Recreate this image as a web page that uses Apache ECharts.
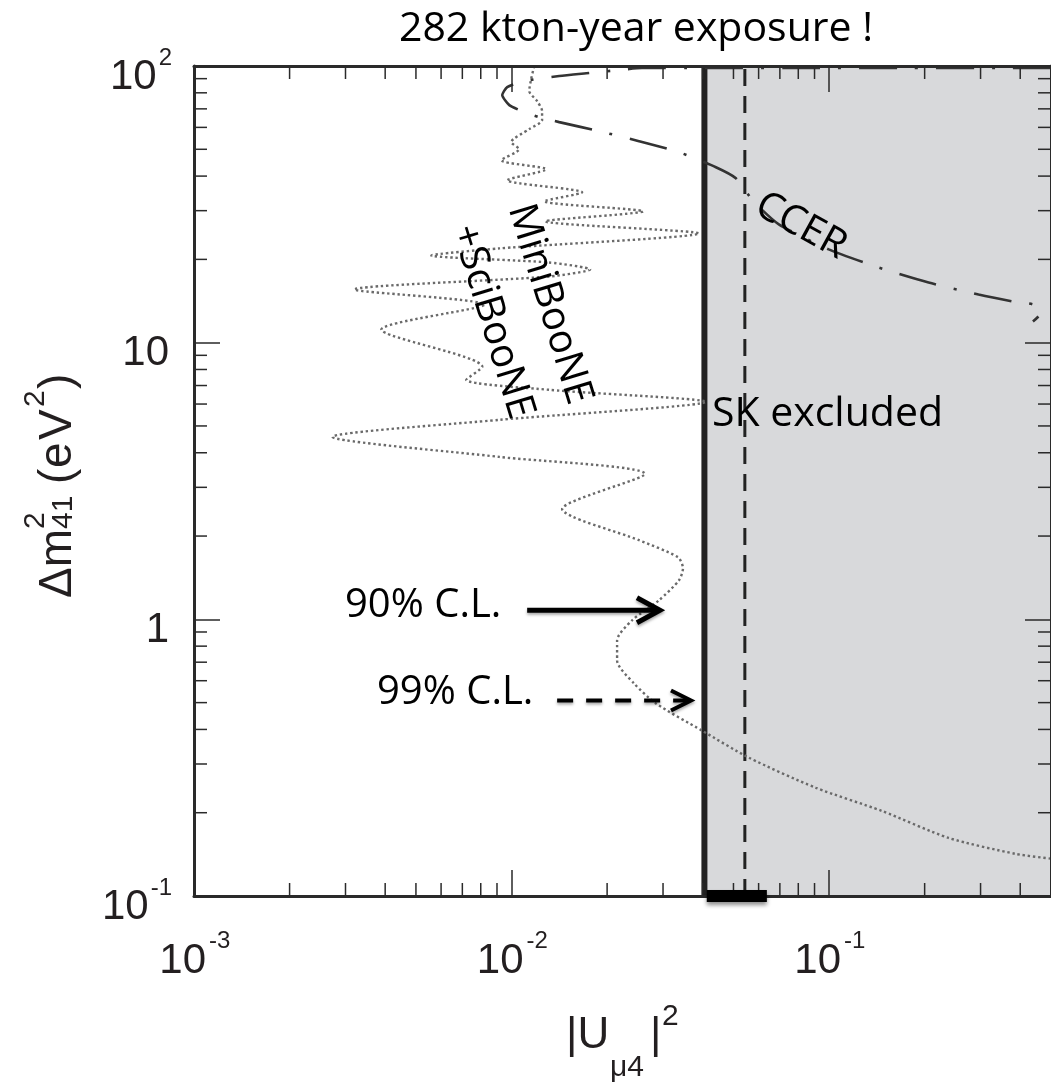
<!DOCTYPE html>
<html><head><meta charset="utf-8">
<script src="https://cdn.jsdelivr.net/npm/echarts@6/dist/echarts.min.js"></script>
<style>html,body{margin:0;padding:0;background:#fff}#c{width:1051px;height:1088px}</style>
</head><body><div id="c"></div>
<script>
// ---------- data ----------
const xTickValues = [0.001, 0.01, 0.1];
const xTickBase = ['10', '10', '10'];
const xTickExp = ['-3', '-2', '-1'];
const yTickValues = [0.1, 1, 10, 100];
const yTickBase = ['10', '1', '10', '10'];
const yTickExp = ['-1', '', '', '2'];
const xMinorTicks = [0.002,0.003,0.004,0.005,0.006,0.007,0.008,0.009,0.02,0.03,0.04,0.05,0.06,0.07,0.08,0.09,0.2,0.3,0.4];
const yMinorTicks = [0.2,0.3,0.4,0.5,0.6,0.7,0.8,0.9,2,3,4,5,6,7,8,9,20,30,40,50,60,70,80,90];

// MiniBooNE+SciBooNE (dotted)
const booneX = [0.01179,0.01153,0.01137,0.01204,0.01248,0.01248,0.01137,0.00998,0.01057,0.00928,0.01285,0.00969,0.01669,0.01267,0.02595,0.01276,0.03895,0.00915,0.00559,0.01313,0.01768,0.01313,0.00320,0.00821,0.00389,0.00809,0.00720,0.01313,0.04096,0.00915,0.00273,0.00915,0.02633,0.01443,0.02521,0.03344,0.03467,0.03369,0.02914,0.02397,0.02150,0.02150,0.02432,0.02851,0.03980,0.05592,0.09083,0.1464,0.2379,0.3864,0.5];
const booneY = [100,89.75,81.19,74.67,68.71,63.73,59.13,53.04,50.04,45.64,42.35,38.64,34.95,32.43,29.83,27.44,24.83,21.91,20.66,19.49,18.39,17.34,15.56,13.73,11.15,8.185,7.344,6.755,6.112,5.260,4.564,3.864,3.353,2.504,1.932,1.677,1.530,1.384,1.172,0.9917,0.8393,0.7101,0.5862,0.4963,0.3961,0.3162,0.2461,0.2032,0.1622,0.1420,0.1365];

// CCER (dash-dot)
const ccerX = [0.5,0.3417,0.1656,0.08032,0.03895,0.02576,0.02182,0.01755,0.01413,0.01096,0.00969,0.00935,0.00984,0.01096,0.01222,0.01413,0.01887,0.02521,0.03369,0.04402,0.05088,0.05775,0.06947,0.09979,0.1433,0.2058,0.2956,0.3808,0.4402,0.4666,0.4386];
const ccerY = [98.3,98.3,98.3,98.3,98.3,98.3,96.7,94.3,91.99,88.25,83.92,78.5,72.2,68.13,65.34,62.68,58.15,53.5,48.81,43.07,39.29,32.43,26.76,21.73,18.69,16.50,14.93,14.08,13.73,12.85,11.92];

// SK limits
const sk90 = 0.0405;
const sk99 = 0.0543;
const skBarX = [0.0412, 0.0637];
const xMin = 0.001, xMax = 0.5, yMin = 0.1, yMax = 100;

// annotation arrows [x1, y1, x2, y2, dashed]
const arrow90 = [0.0112, 1.078, 0.02934, 1.078, 0];
const arrow99 = [0.01392, 0.5086, 0.03674, 0.5086, 1];

// ---------- chart ----------
const AX = '#2a2a2a';
const LF = 'Liberation Sans';
const TXT = '#231f20';
const ANN = 'Open Sans';
const BASE_FS = 42, SUP_FS = 24;

const mctx = document.createElement('canvas').getContext('2d');
function textW(t, fs) { mctx.font = fs + 'px "' + LF + '"'; return mctx.measureText(t).width; }

const axisCommon = {
  type: 'log', logBase: 10, z: 10,
  axisLine: { show: true, lineStyle: { color: AX, width: 3 } },
  axisTick: { show: true, inside: true, length: 26, lineStyle: { color: AX, width: 1.5 } },
  axisLabel: { show: false },
  minorTick: { show: false },
  splitLine: { show: false }
};

function txt(x, y, s, fs, align) {
  return { type: 'text', x: x, y: y, style: { text: s, fontSize: fs, fontFamily: LF, fill: TXT, align: align, verticalAlign: 'middle' } };
}

const chart = echarts.init(document.getElementById('c'));
const option = {
  animation: false,
  backgroundColor: '#fff',
  grid: { left: 194, top: 66, width: 859, height: 830, show: false },
  xAxis: [
    Object.assign({}, axisCommon, { min: xMin, max: xMax, position: 'bottom' }),
    Object.assign({}, axisCommon, { min: xMin, max: xMax, position: 'top' })
  ],
  yAxis: [
    Object.assign({}, axisCommon, { min: yMin, max: yMax, position: 'left' }),
    Object.assign({}, axisCommon, { min: yMin, max: yMax, position: 'right' })
  ],
  series: [
    { // SK 90% line + excluded region
      type: 'line', z: 3, symbol: 'none', silent: true,
      data: [[sk90, yMin], [sk90, yMax]],
      lineStyle: { color: '#222', width: 6 },
      markArea: { silent: true, itemStyle: { color: '#d8d9db' }, data: [[{ coord: [sk90, yMin] }, { coord: [xMax, yMax] }]] }
    },
    { // SK 99% dashed
      type: 'line', z: 4, symbol: 'none', silent: true,
      data: [[sk99, yMin], [sk99, yMax]],
      lineStyle: { color: '#222', width: 3, type: [17, 10] }
    },
    { // MiniBooNE + SciBooNE
      type: 'line', z: 5, symbol: 'none', silent: true, smooth: 0.25,
      data: booneX.map((x, i) => [x, booneY[i]]),
      lineStyle: { color: '#6a6a6a', width: 2.4, type: [2.4, 2.8] }
    },
    { // CCER
      type: 'line', z: 5, symbol: 'none', silent: true, smooth: 0.2,
      data: ccerX.map((x, i) => [x, ccerY[i]]),
      lineStyle: { color: '#333', width: 2.6, type: [38, 18, 3, 18] }
    },
    { // black bar on axis
      type: 'line', z: 12, symbol: 'none', silent: true, clip: false,
      data: [[skBarX[0], yMin], [skBarX[1], yMin]],
      lineStyle: { color: '#000', width: 12, shadowBlur: 4, shadowColor: 'rgba(0,0,0,0.45)', shadowOffsetY: 3 }
    },
    { // minor ticks on x (bottom & top)
      type: 'custom', z: 11, silent: true, clip: false,
      data: xMinorTicks.map(v => [v, 1]),
      renderItem: function (params, api) {
        const v = api.value(0);
        const b = api.coord([v, yMin]), t = api.coord([v, yMax]);
        return { type: 'group', children: [
          { type: 'line', shape: { x1: b[0], y1: b[1], x2: b[0], y2: b[1] - 13 }, style: { stroke: AX, lineWidth: 1.5 } },
          { type: 'line', shape: { x1: t[0], y1: t[1], x2: t[0], y2: t[1] + 13 }, style: { stroke: AX, lineWidth: 1.5 } }
        ] };
      }
    },
    { // minor ticks on y (left & right)
      type: 'custom', z: 11, silent: true, clip: false,
      data: yMinorTicks.map(v => [0.01, v]),
      renderItem: function (params, api) {
        const v = api.value(1);
        const l = api.coord([xMin, v]), r = api.coord([xMax, v]);
        return { type: 'group', children: [
          { type: 'line', shape: { x1: l[0], y1: l[1], x2: l[0] + 13, y2: l[1] }, style: { stroke: AX, lineWidth: 1.5 } },
          { type: 'line', shape: { x1: r[0], y1: r[1], x2: r[0] - 13, y2: r[1] }, style: { stroke: AX, lineWidth: 1.5 } }
        ] };
      }
    },
    { // x tick labels (10^n)
      type: 'custom', z: 12, silent: true, clip: false,
      data: xTickValues.map((v, i) => [v, yMin, i]),
      renderItem: function (params, api) {
        const i = api.value(2);
        const p = api.coord([api.value(0), yMin]);
        return { type: 'group', children: [
          txt(p[0] + 12, p[1] + 65, xTickBase[i], BASE_FS, 'right'),
          txt(p[0] + 15, p[1] + 45, xTickExp[i], SUP_FS, 'left')
        ] };
      }
    },
    { // y tick labels
      type: 'custom', z: 12, silent: true, clip: false,
      data: yTickValues.map((v, i) => [xMin, v, i]),
      renderItem: function (params, api) {
        const i = api.value(2);
        const p = api.coord([xMin, api.value(1)]);
        const right = p[0] - 22;
        const kids = [];
        if (yTickExp[i]) {
          const sw = textW(yTickExp[i], SUP_FS);
          kids.push(txt(right, p[1] - 8, yTickExp[i], SUP_FS, 'right'));
          kids.push(txt(right - sw - 2, p[1] + 11, yTickBase[i], BASE_FS, 'right'));
        } else {
          kids.push(txt(p[0] - 25, p[1] + 11, yTickBase[i], BASE_FS, 'right'));
        }
        return { type: 'group', children: kids };
      }
    },
    { // annotation arrows
      type: 'custom', z: 15, silent: true, clip: false,
      data: [arrow90, arrow99],
      renderItem: function (params, api) {
        const p1 = api.coord([api.value(0), api.value(1)]);
        const p2 = api.coord([api.value(2), api.value(3)]);
        const dashed = api.value(4) === 1;
        const hl = dashed ? 20 : 23, hw = dashed ? 10 : 12.5, lw = dashed ? 4 : 5;
        const sh = { shadowBlur: 3, shadowColor: 'rgba(0,0,0,0.35)', shadowOffsetY: 2 };
        return { type: 'group', children: [
          { type: 'line', shape: { x1: p1[0], y1: p1[1], x2: p2[0] - 4, y2: p2[1] },
            style: Object.assign({ stroke: '#000', lineWidth: lw, lineDash: dashed ? [16, 13] : null }, sh) },
          { type: 'polyline', shape: { points: [[p2[0] - hl, p2[1] - hw], [p2[0], p2[1]], [p2[0] - hl, p2[1] + hw]] },
            style: Object.assign({ stroke: '#000', fill: null, lineWidth: lw, lineJoin: 'miter' }, sh) }
        ] };
      }
    }
  ],
  graphic: [
    { type: 'text', x: 636, y: 29, z: 20, style: { text: '282 kton-year exposure !', fontSize: 41, fontFamily: ANN, fill: '#000', align: 'center', verticalAlign: 'middle' } },
    { type: 'text', x: 712, y: 414, z: 20, style: { text: 'SK excluded', fontSize: 41, fontFamily: ANN, fill: '#000', align: 'left', verticalAlign: 'middle' } },
    { type: 'text', x: 345, y: 606, z: 20, style: { text: '90% C.L.', fontSize: 40, fontFamily: ANN, fill: '#000', align: 'left', verticalAlign: 'middle' } },
    { type: 'text', x: 377, y: 693, z: 20, style: { text: '99% C.L.', fontSize: 40, fontFamily: ANN, fill: '#000', align: 'left', verticalAlign: 'middle' } },
    { type: 'text', x: 801, y: 226, rotation: -0.5, z: 20, style: { text: 'CCER', fontSize: 40, fontFamily: ANN, fill: '#000', align: 'center', verticalAlign: 'middle' } },
    { type: 'text', x: 521, y: 313, rotation: -1.274, z: 20, style: { text: 'MiniBooNE\n+SciBooNE', fontSize: 40, lineHeight: 60, fontFamily: ANN, fill: '#000', align: 'center', verticalAlign: 'middle' } },
    { // y-axis title, reading bottom to top
      type: 'group', x: 74, y: 598, rotation: Math.PI / 2, z: 20,
      children: [
        { type: 'text', x: 0, y: -16, style: { text: 'Δm', fontSize: 46, fontFamily: LF, fill: TXT, align: 'left', verticalAlign: 'middle' } },
        { type: 'text', x: 69, y: -38, style: { text: '2', fontSize: 30, fontFamily: LF, fill: TXT, align: 'left', verticalAlign: 'middle' } },
        { type: 'text', x: 69, y: -10, style: { text: '41', fontSize: 30, fontFamily: LF, fill: TXT, align: 'left', verticalAlign: 'middle' } },
        { type: 'text', x: 114, y: -16, style: { text: '(', fontSize: 46, fontFamily: LF, fill: TXT, align: 'left', verticalAlign: 'middle' } },
        { type: 'text', x: 130, y: -16, style: { text: 'e', fontSize: 46, fontFamily: LF, fill: TXT, align: 'left', verticalAlign: 'middle' } },
        { type: 'text', x: 158, y: -16, style: { text: 'V', fontSize: 46, fontFamily: LF, fill: TXT, align: 'left', verticalAlign: 'middle' } },
        { type: 'text', x: 191, y: -38, style: { text: '2', fontSize: 30, fontFamily: LF, fill: TXT, align: 'left', verticalAlign: 'middle' } },
        { type: 'text', x: 209, y: -16, style: { text: ')', fontSize: 46, fontFamily: LF, fill: TXT, align: 'left', verticalAlign: 'middle' } }
      ]
    },
    { // x-axis title
      type: 'group', x: 0, y: 0, z: 20,
      children: [
        { type: 'text', x: 566, y: 1036, style: { text: '|U', fontSize: 44, fontFamily: LF, fill: TXT, align: 'left', verticalAlign: 'middle' } },
        { type: 'text', x: 610, y: 1068, style: { text: 'μ4', fontSize: 30, fontFamily: LF, fill: TXT, align: 'left', verticalAlign: 'middle' } },
        { type: 'text', x: 650, y: 1036, style: { text: '|', fontSize: 44, fontFamily: LF, fill: TXT, align: 'left', verticalAlign: 'middle' } },
        { type: 'text', x: 662, y: 1017, style: { text: '2', fontSize: 30, fontFamily: LF, fill: TXT, align: 'left', verticalAlign: 'middle' } }
      ]
    }
  ]
};
chart.setOption(option);
</script>
</body></html>
